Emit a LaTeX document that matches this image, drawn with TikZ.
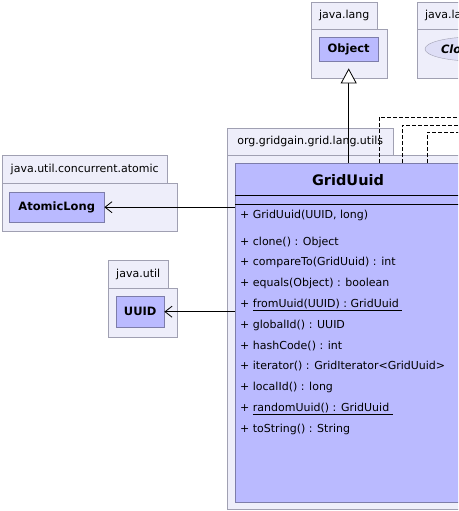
\documentclass[tikz,border=0pt]{standalone}
\usepackage{fontspec}
\setmainfont{DejaVu Sans}
\usepackage{tikz}
\usetikzlibrary{calc,arrows.meta,shapes.geometric}
\usepackage{xcolor}

\definecolor{pkgfill}{RGB}{238,238,250}
\definecolor{pkgline}{RGB}{160,160,178}
\definecolor{clsfill}{RGB}{186,186,255}
\definecolor{clsline}{RGB}{125,125,170}
\definecolor{ifcfill}{RGB}{222,222,246}

\tikzset{
  pkgbox/.style={draw=pkgline,fill=pkgfill,anchor=north west,inner sep=0pt,
    font=\fontsize{11}{13}\selectfont},
  clsbox/.style={draw=clsline,fill=clsfill,anchor=north west,inner sep=0pt,
    font=\bfseries\fontsize{11.5}{13}\selectfont},
  member/.style={anchor=base west,inner sep=0pt,font=\fontsize{11}{13}\selectfont},
  assoc/.style={-{Straight Barb[length=7pt,width=11pt]},thick},
  gen/.style={-{Triangle[open,length=15pt,width=16pt,fill=white]},thick},
  real/.style={dash pattern=on 4pt off 2pt,thick}
}

\begin{document}
\begin{tikzpicture}[x=1pt,y=-1pt]

  % Marco de la imagen
  \useasboundingbox (0,0) rectangle (458,511);
  \clip (0,0) rectangle (458,511);

  % Paquete java.lang (Object)
  \node[pkgbox,minimum width=66pt,minimum height=27pt] (langtab) at (311,2) {java.lang};
  \node[pkgbox,minimum width=76pt,minimum height=49pt] (lang) at (311,29) {};
  \node[clsbox,minimum width=59pt,minimum height=24pt] (obj) at (319,37) {Object};

  % Paquete java.lang (Cloneable)
  \node[pkgbox,minimum width=66pt,minimum height=27pt] (langtabb) at (417,2) {java.lang};
  \node[pkgbox,minimum width=80pt,minimum height=49pt] (langb) at (417,29) {};
  \node[draw=pkgline,fill=ifcfill,ellipse,minimum width=96pt,minimum height=24pt,
    inner sep=0pt,font=\bfseries\itshape\fontsize{11.5}{13}\selectfont] (clon) at (473,49) {Cloneable};

  % Paquete java.util.concurrent.atomic
  \node[pkgbox,minimum width=165pt,minimum height=28pt] (atomtab) at (2,155) {java.util.concurrent.atomic};
  \node[pkgbox,minimum width=175pt,minimum height=48pt] (atompkg) at (2,183) {};
  \node[clsbox,minimum width=95pt,minimum height=30pt] (atomic) at (9,192) {AtomicLong};

  % Paquete java.util
  \node[pkgbox,minimum width=60pt,minimum height=28pt] (utiltab) at (108,260) {java.util};
  \node[pkgbox,minimum width=69pt,minimum height=49pt] (utilpkg) at (108,288) {};
  \node[clsbox,minimum width=48pt,minimum height=31pt] (uuid) at (116,296) {UUID};

  % Paquete org.gridgain.grid.lang.utils
  \node[pkgbox,minimum width=166pt,minimum height=27pt] (utilstab) at (227,128) {org.gridgain.grid.lang.utils};
  \node[pkgbox,minimum width=250pt,minimum height=354pt] (utils) at (227,155) {};

  % Clase GridUuid
  \node[clsbox,minimum width=226pt,minimum height=339pt] (grid) at (235,163) {};
  \node[font=\bfseries\fontsize{14.5}{16}\selectfont] (title) at (348,180) {GridUuid};
  \draw[thick] ($(grid.north west)+(0,32)$) -- ($(grid.north east)+(0,32)$);
  \draw[thick] ($(grid.north west)+(0,41)$) -- ($(grid.north east)+(0,41)$);

  % Operaciones
  \node[member] (ctor) at (240,218) {+ GridUuid(UUID, long)};
  \foreach \m [count=\i from 0] in {%
      {+ clone() : Object},
      {+ compareTo(GridUuid) : int},
      {+ equals(Object) : boolean},
      {+ \underline{fromUuid(UUID) : GridUuid\ }},
      {+ globalId() : UUID},
      {+ hashCode() : int},
      {+ iterator() : GridIterator<GridUuid>},
      {+ localId() : long},
      {+ \underline{randomUuid() : GridUuid\ }},
      {+ toString() : String}} {
    \node[member] (op\i) at (240,{245+20.8*\i}) {\m};
  }

  % Dependencias
  \draw[assoc] (grid.west |- atomic.east) -- (atomic.east);
  \draw[assoc] (grid.west |- uuid.east) -- (uuid.east);

  % Herencia de Object
  \draw[gen,shorten >=7pt] (grid.north -| obj.south) -- (obj.south);

  % Realizaciones hacia las interfaces (fuera del cuadro)
  \coordinate (ra) at (470,117);
  \coordinate (rb) at (470,125);
  \coordinate (rc) at (470,132);
  \draw[real] ($(grid.north west)+(144,0)$) |- (ra);
  \draw[real] ($(grid.north west)+(167,0)$) |- (rb);
  \draw[real] ($(grid.north west)+(192,0)$) |- (rc);

\end{tikzpicture}
\end{document}
